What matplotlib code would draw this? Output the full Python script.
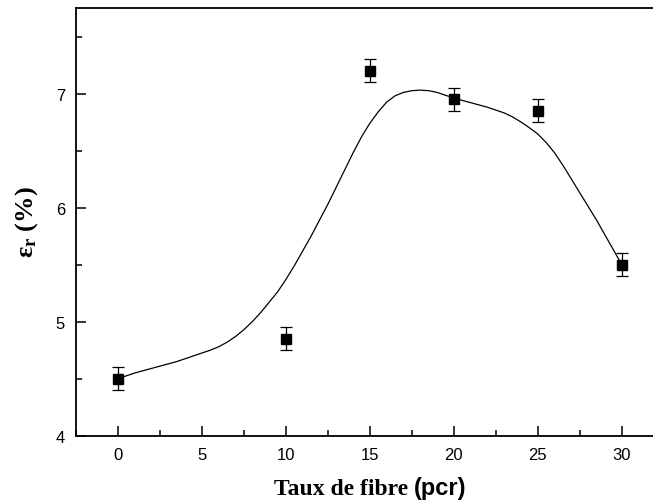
"""
Taux de fibre vs epsilon_r, with error bars and fitted curve
"""

import numpy as np
import matplotlib
matplotlib.use('Agg')
import matplotlib.pyplot as plt
from matplotlib.ticker import MultipleLocator

# measured points
fibre = [0, 10, 15, 20, 25, 30]
eps_r = [4.5, 4.85, 7.2, 6.95, 6.85, 5.5]
eps_err = [0.1, 0.1, 0.1, 0.1, 0.1, 0.1]

# fitted curve, every half unit of x
curve_x = [i * 0.5 for i in range(61)]
curve_y = [4.50, 4.525, 4.55, 4.57, 4.59, 4.61, 4.63, 4.65, 4.675, 4.70,
           4.725, 4.75, 4.78, 4.82, 4.87, 4.93, 5.00, 5.08, 5.17, 5.26,
           5.37, 5.49, 5.62, 5.75, 5.89, 6.03, 6.18, 6.33, 6.48, 6.62,
           6.74, 6.84, 6.925, 6.98, 7.01, 7.025, 7.03, 7.025, 7.01, 6.985,
           6.96, 6.94, 6.92, 6.90, 6.88, 6.855, 6.83, 6.795, 6.75, 6.70,
           6.645, 6.57, 6.48, 6.37, 6.25, 6.13, 6.01, 5.89, 5.76, 5.63,
           5.50]

plt.rcParams['mathtext.fontset'] = 'custom'
plt.rcParams['mathtext.rm'] = 'Liberation Serif'
plt.rcParams['mathtext.bf'] = 'Liberation Serif:bold'

fig = plt.figure(figsize=(6.53, 5.02), dpi=100)
ax = fig.add_axes([76 / 653, 1 - 436.7 / 502, 1 - 76 / 653, (436.7 - 9) / 502])

ax.plot(curve_x, curve_y, color='black', linewidth=0.9)
ax.errorbar(fibre, eps_r, yerr=eps_err, fmt='s', color='black',
            markersize=7.5, ecolor='black', elinewidth=0.9,
            capsize=4, capthick=0.9, zorder=3)

ax.set_xlim(-2.5, 31.86)
ax.set_ylim(4, 7.75)
ax.xaxis.set_major_locator(MultipleLocator(5))
ax.xaxis.set_minor_locator(MultipleLocator(2.5))
ax.yaxis.set_major_locator(MultipleLocator(1))
ax.yaxis.set_minor_locator(MultipleLocator(0.5))

ax.spines['right'].set_visible(False)
for side in ['left', 'bottom', 'top']:
    ax.spines[side].set_linewidth(1.3)

ax.tick_params(which='both', direction='in', top=False, right=False, width=1.1)
ax.tick_params(which='major', length=7, pad=8)
ax.tick_params(which='minor', length=4)
for lbl in ax.get_xticklabels() + ax.get_yticklabels():
    lbl.set_fontfamily('Liberation Sans')
    lbl.set_fontsize(12)

# y label
fig.text(27 / 653, 1 - 222.5 / 502, r'$\mathbf{\epsilon_r}$ (%)', rotation=90,
         ha='center', va='center', fontsize=19, fontweight='bold',
         family='Liberation Serif')

# x label in two fonts, on a common baseline
fig.canvas.draw()
r = fig.canvas.get_renderer()
t1 = fig.text(0, 1 - 495 / 502, 'Taux de fibre ', ha='left', va='baseline',
              fontsize=17, fontweight='bold', family='Liberation Serif')
t2 = fig.text(0, 1 - 495 / 502, '(pcr)', ha='left', va='baseline',
              fontsize=17, fontweight='bold', family='Liberation Sans')
w1 = t1.get_window_extent(r).width
w2 = t2.get_window_extent(r).width
x0 = 370 - (w1 + w2) / 2
t1.set_x(x0 / 653)
t2.set_x((x0 + w1) / 653)

fig.savefig('out.png', dpi=100)
